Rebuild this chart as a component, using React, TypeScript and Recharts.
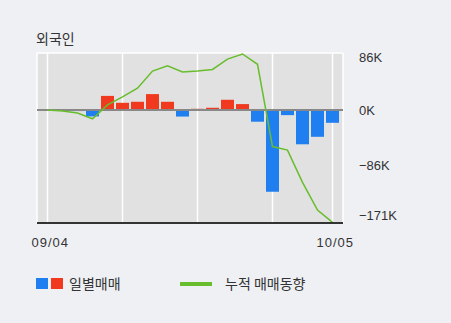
import React from 'react';
import {
  ComposedChart,
  Bar,
  Line,
  Cell,
  XAxis,
  YAxis,
  CartesianGrid,
  ReferenceLine,
} from 'recharts';

// trading days, 09/04 ~ 10/05 (Chuseok break in between)
const dates = [
  '09/04', '09/05', '09/06', '09/07', '09/08',
  '09/11', '09/12', '09/13', '09/14', '09/15',
  '09/18', '09/19', '09/20', '09/21', '09/22',
  '09/25', '09/26', '09/27', '10/04', '10/05',
];

// daily net buying, thousand shares
const daily = [
  0, -0.5, -1.5, -9.8, 22, 11.3, 12.9, 24.8, 12.9, -10,
  2, 3.6, 16, 9.3, -18, -126.6, -7.8, -53, -41.4, -19.7,
];

// cumulative trend, thousand shares
const cumulative = [
  0, -1.5, -4.5, -13.5, 8, 20.6, 34, 60.5, 68.5, 59,
  60.5, 63, 79, 87, 71, -56.5, -62, -112, -155, -174,
];

const yTicks = [86, 0, -86, -171];
const xTicks = ['09/04', '10/05'];
const weekLines = ['09/04', '09/11', '09/18', '09/25', '10/05'];
const gridValues = [88.5, -86];

const data = dates.map((d, i) => ({ date: d, daily: daily[i], cum: cumulative[i] }));

const BLUE = '#1f7ff0';
const RED = '#f0391f';
const GREEN = '#68bd2c';
const NUM_FONT = '"Liberation Sans", Arial, sans-serif';
const KR_FONT = '"Noto Sans CJK KR", "Noto Sans", sans-serif';

const RightTick = (props: any) => {
  const { x, y, payload } = props;
  const v = payload.value;
  let dy = 0;
  if (v > 0) dy = 3;
  if (v === -171) dy = -5;
  const label = v < 0 ? `\u2212${Math.abs(v)}K` : `${v}K`;
  return (
    <text x={x + 8} y={y + dy} dominantBaseline="central" fontSize={13} fill="#333" fontFamily={NUM_FONT}>
      {label}
    </text>
  );
};

const BottomTick = (props: any) => {
  const { x, y, payload } = props;
  return (
    <text x={x - 16} y={y + 11} dominantBaseline="central" fontSize={13} fill="#333" fontFamily={NUM_FONT} letterSpacing={1}>
      {payload.value}
    </text>
  );
};

export default function App() {
  return (
    <div style={{ position: 'absolute', left: 0, top: 0, width: 451, height: 323, background: '#eef0f4', overflow: 'hidden' }}>
      <div style={{ position: 'absolute', left: 36, top: 29, fontSize: 14, color: '#333', fontFamily: KR_FONT, lineHeight: '18px' }}>
        외국인
      </div>
      <ComposedChart width={451} height={323} data={data} margin={{ top: 53, right: 0, bottom: 0, left: 37 }}>
        <CartesianGrid
          fill="#e1e1e1"
          stroke="#fff"
          strokeWidth={1.5}
          xAxisId="g"
          yAxisId="g"
        />
        <XAxis
          dataKey="date"
          ticks={xTicks}
          interval={0}
          height={100}
          padding={{ left: 3, right: 3 }}
          tickLine={false}
          axisLine={{ stroke: '#333', strokeWidth: 2 }}
          tick={<BottomTick />}
        />
        <XAxis xAxisId="g" dataKey="date" hide ticks={weekLines} interval={0} padding={{ left: 3, right: 3 }} />
        <YAxis yAxisId="g" hide domain={[-175, 88.5]} ticks={gridValues} interval={0} />
        <YAxis yAxisId="l" orientation="left" width={0} domain={[-175, 88.5]} tick={false} tickLine={false} axisLine={{ stroke: '#333', strokeWidth: 2 }} />
        <YAxis
          yAxisId="r"
          orientation="right"
          width={108}
          domain={[-175, 88.5]}
          ticks={yTicks}
          interval={0}
          tickLine={false}
          axisLine={false}
          tick={<RightTick />}
        />
        <Bar yAxisId="r" dataKey="daily" barSize={13} isAnimationActive={false}>
          {data.map((d, i) => (
            <Cell key={`c-${i}`} fill={d.daily >= 0 ? RED : BLUE} />
          ))}
        </Bar>
        <ReferenceLine yAxisId="r" y={0} stroke="#888" strokeWidth={2} />
        <Line
          yAxisId="r"
          dataKey="cum"
          type="linear"
          stroke={GREEN}
          strokeWidth={1.5}
          dot={false}
          isAnimationActive={false}
        />
      </ComposedChart>
      <div style={{ position: 'absolute', left: 36, top: 278, width: 12, height: 11, background: BLUE }} />
      <div style={{ position: 'absolute', left: 51, top: 278, width: 12, height: 11, background: RED }} />
      <div style={{ position: 'absolute', left: 69, top: 274, fontSize: 14, color: '#333', fontFamily: KR_FONT, lineHeight: '18px' }}>
        일별매매
      </div>
      <div style={{ position: 'absolute', left: 180, top: 282, width: 32, height: 4, background: GREEN }} />
      <div style={{ position: 'absolute', left: 225, top: 274, fontSize: 14, color: '#333', fontFamily: KR_FONT, lineHeight: '18px' }}>
        누적 매매동향
      </div>
    </div>
  );
}
